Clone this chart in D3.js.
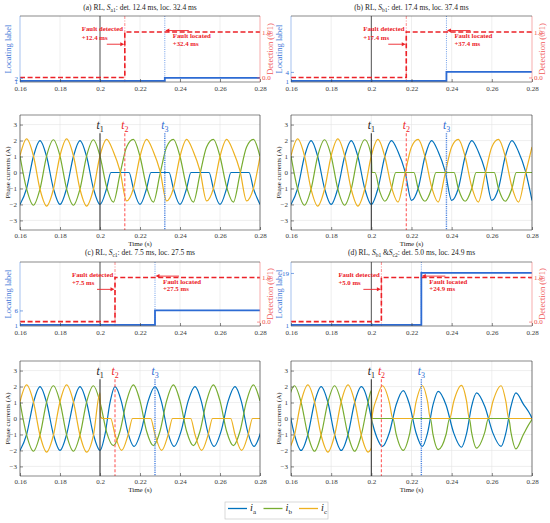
<!DOCTYPE html>
<html>
<head>
<meta charset="utf-8">
<script src="https://cdn.jsdelivr.net/npm/d3@7"></script>
<style>
  body { margin: 0; background: #fff; }
  svg { display: block; }
</style>
</head>
<body>
<svg id="chart" width="550" height="523"></svg>
<script>
// Open-switch fault cases: detection/locating signals (top) and phase currents (bottom)

var xTicks = [0.16, 0.18, 0.2, 0.22, 0.24, 0.26, 0.28];
var xTickLabels = ["0.16", "0.18", "0.2", "0.22", "0.24", "0.26", "0.28"];
var currentTicks = [-3, -2, -1, 0, 1, 2, 3];
var currentTickLabels = ["\u22123", "\u22122", "\u22121", "0", "1", "2", "3"];
var panelLetters = ["a", "b", "c", "d"];
var panelSwitches = [["a1"], ["b1"], ["c1"], ["b1", "c2"]];
var detectMs = [12.4, 17.4, 7.5, 5.0];
var locateMs = [32.4, 37.4, 27.5, 24.9];
var locateLabel = [2, 4, 6, 19];
var faultTime = 0.2;
var phaseNames = ["a", "b", "c"];

// pre-fault samples shared by panels a, b, c  [time (s), current (A)]
var preIa = [[0.16,-2],[0.1633,-1],[0.1667,1],[0.17,2],[0.1733,1],[0.1767,-1],[0.18,-2],[0.1833,-1],[0.1867,1],[0.19,2],[0.1933,1],[0.1967,-1]];
var preIb = [[0.16,1.03],[0.1633,-1.03],[0.1667,-2.05],[0.17,-1.03],[0.1733,1.03],[0.1767,2.05],[0.18,1.03],[0.1833,-1.03],[0.1867,-2.05],[0.19,-1.03],[0.1933,1.03],[0.1967,2.05]];
var preIc = [[0.16,1.05],[0.1633,2.1],[0.1667,1.05],[0.17,-1.05],[0.1733,-2.1],[0.1767,-1.05],[0.18,1.05],[0.1833,2.1],[0.1867,1.05],[0.19,-1.05],[0.1933,-2.1],[0.1967,-1.05]];

// (a) S_a1
var iaA = preIa.concat([[0.2,-2],[0.2033,-1],[0.2055,0],[0.2145,0],[0.2167,-1],[0.22,-2],[0.2233,-1],[0.2255,0],[0.2345,0],[0.2367,-1],[0.24,-2],[0.2433,-1],[0.2455,0],[0.2545,0],[0.2567,-1],[0.26,-2],[0.2633,-1],[0.2655,0],[0.2745,0],[0.2767,-1],[0.28,-2]]);
var ibA = preIb.concat([[0.2,1.03],[0.2033,-0.9],[0.2067,-1.85],[0.21,-0.1],[0.2133,1.6],[0.2167,2.07],[0.22,1.0],[0.2233,-0.9],[0.2267,-1.85],[0.23,-0.1],[0.2333,1.6],[0.2367,2.07],[0.24,1.0],[0.2433,-0.9],[0.2467,-1.85],[0.25,-0.1],[0.2533,1.6],[0.2567,2.07],[0.26,1.0],[0.2633,-0.9],[0.2667,-1.85],[0.27,-0.1],[0.2733,1.6],[0.2767,2.07],[0.28,1.0]]);
var icA = preIc.concat([[0.2,1.05],[0.2033,2.07],[0.2067,1.3],[0.21,0.1],[0.2133,-1.78],[0.2167,-1.0],[0.22,1.0],[0.2233,2.07],[0.2267,1.3],[0.23,0.1],[0.2333,-1.78],[0.2367,-1.0],[0.24,1.0],[0.2433,2.07],[0.2467,1.3],[0.25,0.1],[0.2533,-1.78],[0.2567,-1.0],[0.26,1.0],[0.2633,2.07],[0.2667,1.3],[0.27,0.1],[0.2733,-1.78],[0.2767,-1.0],[0.28,1.0]]);

// (b) S_b1
var iaB = preIa.concat([[0.2,-2],[0.2033,-1],[0.2067,1.0],[0.21,2.0],[0.2133,1.3],[0.2167,0.1],[0.22,-1.75],[0.2233,-1.0],[0.2267,1.0],[0.23,2.0],[0.2333,1.3],[0.2367,0.1],[0.24,-1.75],[0.2433,-1.0],[0.2467,1.0],[0.25,2.0],[0.2533,1.3],[0.2567,0.1],[0.26,-1.75],[0.2633,-1.0],[0.2667,1.0],[0.27,2.0],[0.2733,1.3],[0.2767,0.1],[0.28,-1.75]]);
var ibB = preIb.concat([[0.2,1.03],[0.2003,0],[0.2018,0],[0.2042,-1.2],[0.2067,-1.8],[0.21,-1.0],[0.2122,0],[0.2212,0],[0.2233,-1.0],[0.2267,-1.8],[0.23,-1.0],[0.2322,0],[0.2412,0],[0.2433,-1.0],[0.2467,-1.8],[0.25,-1.0],[0.2522,0],[0.2612,0],[0.2633,-1.0],[0.2667,-1.8],[0.27,-1.0],[0.2722,0],[0.28,0]]);
var icB = preIc.concat([[0.2,1.05],[0.2033,2.07],[0.2067,1.0],[0.21,-0.9],[0.2133,-1.85],[0.2167,-0.1],[0.22,1.6],[0.2233,2.07],[0.2267,1.0],[0.23,-0.9],[0.2333,-1.85],[0.2367,-0.1],[0.24,1.6],[0.2433,2.07],[0.2467,1.0],[0.25,-0.9],[0.2533,-1.85],[0.2567,-0.1],[0.26,1.6],[0.2633,2.07],[0.2667,1.0],[0.27,-0.9],[0.2733,-1.85],[0.2767,-0.1],[0.28,1.6]]);

// (c) S_c1
var iaC = preIa.concat([[0.2,-2],[0.2025,-1.0],[0.205,1.0],[0.2075,2.0],[0.2107,1.06],[0.2138,-0.81],[0.217,-1.75],[0.2205,-0.81],[0.224,1.06],[0.2275,2.0],[0.2307,1.06],[0.2338,-0.81],[0.237,-1.75],[0.2405,-0.81],[0.244,1.06],[0.2475,2.0],[0.2507,1.06],[0.2538,-0.81],[0.257,-1.75],[0.2605,-0.81],[0.264,1.06],[0.2675,2.0],[0.2707,1.06],[0.2738,-0.81],[0.277,-1.75],[0.2805,-0.81]]);
var ibC = preIb.concat([[0.2,1.03],[0.2033,-0.85],[0.2067,-1.7],[0.21,-0.8],[0.2133,1.1],[0.2167,2.1],[0.22,1.1],[0.2233,-0.8],[0.2267,-1.7],[0.23,-0.8],[0.2333,1.1],[0.2367,2.1],[0.24,1.1],[0.2433,-0.8],[0.2467,-1.7],[0.25,-0.8],[0.2533,1.1],[0.2567,2.1],[0.26,1.1],[0.2633,-0.8],[0.2667,-1.7],[0.27,-0.8],[0.2733,1.1],[0.2767,2.1],[0.28,1.1]]);
var icC = preIc.concat([[0.2,1.6],[0.2003,0.1],[0.2015,0],[0.2053,0],[0.2075,-1.0],[0.2108,-2.0],[0.2141,-1.0],[0.2163,0],[0.2253,0],[0.2275,-1.0],[0.2308,-2.0],[0.2341,-1.0],[0.2363,0],[0.2453,0],[0.2475,-1.0],[0.2508,-2.0],[0.2541,-1.0],[0.2563,0],[0.2653,0],[0.2675,-1.0],[0.2708,-2.0],[0.2741,-1.0],[0.2763,0],[0.28,0]]);

// (d) S_b1 & S_c2
var iaD = [[0.1584,1.0],[0.1617,-1.0],[0.165,-2.0],[0.1684,-1.0],[0.1717,1.0],[0.175,2.0],[0.1784,1.0],[0.1817,-1.0],[0.185,-2.0],[0.1884,-1.0],[0.1917,1.0],[0.195,2.0],[0.1984,1.0],
  [0.2,0.0],[0.2028,-1.2],[0.2055,-1.75],[0.209,-0.875],[0.2124,0.875],[0.2159,1.75],[0.219,0.875],[0.2222,-0.875],[0.2254,-1.75],[0.228,-0.9],[0.2307,0.85],[0.2333,1.7],[0.2372,0.85],[0.241,-0.9],[0.2449,-1.8],[0.2474,-0.95],[0.2499,0.75],[0.2524,1.6],[0.2565,0.75],[0.2605,-0.9],[0.2646,-1.75],[0.267,-0.9],[0.2695,0.75],[0.272,1.6],[0.2757,0.9],[0.2793,0.2],[0.2825,-0.8]];
var ibD = [[0.1584,1.03],[0.1617,2.05],[0.165,1.03],[0.1684,-1.03],[0.1717,-2.05],[0.175,-1.03],[0.1784,1.03],[0.1817,2.05],[0.185,1.03],[0.1884,-1.03],[0.1917,-2.05],[0.195,-1.03],[0.1984,1.03],
  [0.2,1.75],[0.2003,0.05],[0.2006,0],[0.2107,0],[0.2124,-1.0],[0.2159,-2.0],[0.219,-1.0],[0.2206,0],[0.2294,0],[0.2307,-1.0],[0.2333,-1.95],[0.2372,-1.0],[0.239,0],[0.2488,0],[0.2499,-0.85],[0.2524,-1.85],[0.2565,-0.85],[0.2583,0],[0.2684,0],[0.2695,-0.85],[0.272,-1.9],[0.2757,-1.0],[0.2793,-0.2],[0.2805,0],[0.2825,0]];
var icD = [[0.1584,-2.1],[0.1617,-1.05],[0.165,1.05],[0.1684,2.1],[0.1717,1.05],[0.175,-1.05],[0.1784,-2.1],[0.1817,-1.05],[0.185,1.05],[0.1884,2.1],[0.1917,1.05],[0.195,-1.05],[0.1984,-2.1],
  [0.2,-1.85],[0.2003,0.05],[0.2028,1.3],[0.2055,2.05],[0.209,1.0],[0.2107,0],[0.2206,0],[0.2222,1.0],[0.2254,2.05],[0.228,1.05],[0.2294,0],[0.239,0],[0.241,1.05],[0.2449,2.07],[0.2474,1.1],[0.2488,0],[0.2583,0],[0.2605,1.05],[0.2646,2.05],[0.267,1.05],[0.2684,0],[0.2825,0]];

var panelCurrents = [[iaA, ibA, icA], [iaB, ibB, icB], [iaC, ibC, icC], [iaD, ibD, icD]];

// ---- styling / layout ----
var SERIF = '"Liberation Serif", "Times New Roman", serif';
var phaseColors = ["#0072bd", "#77ac30", "#edb120"];
var RED = "#ec2228", BLUE = "#2d6bd3";
var AXIS = "#3a3a3a", GRID = "#e4e4e4";
var colX = [[20, 260], [291, 532]];
var rowY = [
    { title: 10, top: [16, 82], bottom: [115, 230] },
    { title: 254.5, top: [262, 326], bottom: [361, 476] }
];

var svg = d3.select("#chart");

function vline(g, xp, ya, yb, color, width, dash) {
    g.append("line")
        .attr("x1", xp).attr("x2", xp).attr("y1", ya).attr("y2", yb)
        .attr("stroke", color).attr("stroke-width", width)
        .attr("stroke-dasharray", dash);
}

function styleAxis(g, color) {
    g.attr("font-family", SERIF).attr("font-size", 7);
    g.select(".domain").remove();
    g.selectAll(".tick line").attr("stroke", color).attr("stroke-width", 0.6);
    g.selectAll(".tick text").attr("fill", color);
}

function frame(g, x0, x1, y0, y1, leftColor, rightColor) {
    vline(g, x0, y0, y1, leftColor, 0.7, null);
    vline(g, x1, y0, y1, rightColor, 0.7, null);
    g.append("line").attr("x1", x0).attr("x2", x1).attr("y1", y0).attr("y2", y0)
        .attr("stroke", AXIS).attr("stroke-width", 0.6);
    g.append("line").attr("x1", x0).attr("x2", x1).attr("y1", y1).attr("y2", y1)
        .attr("stroke", AXIS).attr("stroke-width", 0.6);
}

function arrow(g, xFrom, xTo, yp, color) {
    var dir = xTo > xFrom ? 1 : -1;
    g.append("line").attr("x1", xFrom).attr("x2", xTo - dir * 3).attr("y1", yp).attr("y2", yp)
        .attr("stroke", color).attr("stroke-width", 0.9);
    g.append("path")
        .attr("d", "M" + xTo + "," + yp + "L" + (xTo - dir * 4) + "," + (yp - 2) + "L" + (xTo - dir * 4) + "," + (yp + 2) + "Z")
        .attr("fill", color);
}

function rotatedLabel(xp, yp, text, color, size) {
    svg.append("text")
        .attr("transform", "translate(" + xp + "," + yp + ") rotate(-90)")
        .attr("text-anchor", "middle").attr("dy", "0.35em")
        .attr("font-family", SERIF).attr("font-size", size).attr("fill", color)
        .text(text);
}

function drawTitle(i, cx, yp) {
    var t = svg.append("text").attr("x", cx).attr("y", yp)
        .attr("text-anchor", "middle").attr("font-family", SERIF)
        .attr("font-size", 7.5).attr("fill", "#222").style("white-space", "pre");
    var pendingDy = 0;
    function plain(s) {
        t.append("tspan").attr("dy", pendingDy).text(s);
        pendingDy = 0;
    }
    plain("(" + panelLetters[i] + ") RL, ");
    panelSwitches[i].forEach(function(s, j) {
        if (j > 0) plain(" &");
        t.append("tspan").attr("dy", pendingDy).attr("font-style", "italic").text("S");
        t.append("tspan").attr("dy", 2).attr("font-size", 5.5).text(s);
        pendingDy = -2;
    });
    plain(": det. " + detectMs[i].toFixed(1) + " ms, loc. " + locateMs[i].toFixed(1) + " ms");
}

function drawTop(i) {
    var cx = colX[i % 2], row = rowY[Math.floor(i / 2)];
    var x0 = cx[0], x1 = cx[1], y0 = row.top[0], y1 = row.top[1];
    var x = d3.scaleLinear().domain([0.16, 0.28]).range([x0, x1]);
    var yL = d3.scaleLinear().domain([0.6, 22.8]).range([y1, y0]);
    var yR = d3.scaleLinear().domain([-0.1, 1.35]).range([y1, y0]);
    var t2 = faultTime + detectMs[i] / 1000;
    var t3 = faultTime + locateMs[i] / 1000;
    var g = svg.append("g");

    g.selectAll("line.grid").data(xTicks.slice(1, -1)).join("line")
        .attr("class", "grid")
        .attr("x1", function(d) { return x(d); }).attr("x2", function(d) { return x(d); })
        .attr("y1", y0).attr("y2", y1)
        .attr("stroke", GRID).attr("stroke-width", 0.6);

    vline(g, x(faultTime), y0, y1, "#444", 0.9, null);
    vline(g, x(t2), y0, y1, "#ff7070", 0.8, "3,1.5,1,1.5");
    vline(g, x(t3), y0, y1, "#6f9de8", 1, "1,1.2");

    var step = d3.line().curve(d3.curveStepAfter);
    g.append("path")
        .datum([[0.16, 1], [t3, locateLabel[i]], [0.28, locateLabel[i]]])
        .attr("d", step.x(function(d) { return x(d[0]); }).y(function(d) { return yL(d[1]); }))
        .attr("fill", "none").attr("stroke", BLUE).attr("stroke-width", 1.8);
    g.append("path")
        .datum([[0.16, 0], [t2, 1], [0.28, 1]])
        .attr("d", d3.line().curve(d3.curveStepAfter)
            .x(function(d) { return x(d[0]); }).y(function(d) { return yR(d[1]); }))
        .attr("fill", "none").attr("stroke", RED).attr("stroke-width", 1.6)
        .attr("stroke-dasharray", "5,2.6");

    frame(g, x0, x1, y0, y1, "#7fa6e6", "#f38a8a");

    styleAxis(g.append("g").attr("transform", "translate(0," + y1 + ")")
        .call(d3.axisBottom(x).tickValues(xTicks).tickSizeInner(-3).tickSizeOuter(0).tickPadding(3.8)
            .tickFormat(function(d, k) { return xTickLabels[k]; })), AXIS);
    styleAxis(g.append("g").attr("transform", "translate(" + x0 + ",0)")
        .call(d3.axisLeft(yL).tickValues([1, locateLabel[i]]).tickSizeInner(-3).tickSizeOuter(0).tickPadding(2)), BLUE);
    styleAxis(g.append("g").attr("transform", "translate(" + x1 + ",0)")
        .call(d3.axisRight(yR).tickValues([0, 1]).tickSizeInner(-3).tickSizeOuter(0).tickPadding(2)), "#f05050");

    rotatedLabel(x0 - 12, (y0 + y1) / 2, "Locating label", "#3f78d8", 8.5);
    rotatedLabel(x1 + 10.5, (y0 + y1) / 2, "Detection (0/1)", "#f05a5a", 8.5);

    // annotations
    var note = g.append("g").attr("font-family", SERIF).attr("font-size", 6.8)
        .attr("font-weight", "bold").attr("fill", RED);
    note.append("text").attr("x", x(t2) - 43).attr("y", yR(1) - 0.5).text("Fault detected");
    note.append("text").attr("x", x(t2) - 43).attr("y", yR(1) + 7.8).text("+" + detectMs[i].toFixed(1) + " ms");
    arrow(g, x(t2) - 18, x(t2) - 0.5, yR(0.73), RED);
    note.append("text").attr("x", x(t3) + 8).attr("y", yR(1) + 6.5).text("Fault located");
    note.append("text").attr("x", x(t3) + 8).attr("y", yR(1) + 14).text("+" + locateMs[i].toFixed(1) + " ms");
    arrow(g, x(t3) + 24, x(t3) + 0.5, yR(1.03), RED);
}

function drawBottom(i) {
    var cx = colX[i % 2], row = rowY[Math.floor(i / 2)];
    var x0 = cx[0], x1 = cx[1], y0 = row.bottom[0], y1 = row.bottom[1];
    var x = d3.scaleLinear().domain([0.16, 0.28]).range([x0, x1]);
    var y = d3.scaleLinear().domain([-3.6, 3.6]).range([y1, y0]);
    var t2 = faultTime + detectMs[i] / 1000;
    var t3 = faultTime + locateMs[i] / 1000;
    var g = svg.append("g");

    g.selectAll("line.gx").data(xTicks.slice(1, -1)).join("line")
        .attr("class", "gx")
        .attr("x1", function(d) { return x(d); }).attr("x2", function(d) { return x(d); })
        .attr("y1", y0).attr("y2", y1).attr("stroke", GRID).attr("stroke-width", 0.6);
    g.selectAll("line.gy").data(currentTicks).join("line")
        .attr("class", "gy")
        .attr("x1", x0).attr("x2", x1)
        .attr("y1", function(d) { return y(d); }).attr("y2", function(d) { return y(d); })
        .attr("stroke", GRID).attr("stroke-width", 0.6);

    var clipId = "clip-" + i;
    svg.append("clipPath").attr("id", clipId).append("rect")
        .attr("x", x0).attr("y", y0).attr("width", x1 - x0).attr("height", y1 - y0);

    var line = d3.line().curve(d3.curveMonotoneX)
        .x(function(d) { return x(d[0]); }).y(function(d) { return y(d[1]); });
    g.append("g").attr("clip-path", "url(#" + clipId + ")")
        .selectAll("path").data(panelCurrents[i]).join("path")
        .attr("d", line).attr("fill", "none")
        .attr("stroke", function(d, k) { return phaseColors[k]; })
        .attr("stroke-width", 1.2).attr("stroke-linejoin", "round");

    var events = [
        { t: faultTime, color: "#3a3a3a", width: 1.1, dash: null },
        { t: t2, color: "#ff5c5c", width: 1.1, dash: "3,2" },
        { t: t3, color: "#4d84e0", width: 1.4, dash: "1.2,1" }
    ];
    var labelColors = ["#222", RED, BLUE];
    events.forEach(function(e, k) {
        vline(g, x(e.t), y(2.45), y1, e.color, e.width, e.dash);
        var t = g.append("text").attr("x", x(e.t) - 3.5).attr("y", y(2.7))
            .attr("font-family", SERIF).attr("fill", labelColors[k]);
        t.append("tspan").attr("font-style", "italic").attr("font-size", 11.5).text("t");
        t.append("tspan").attr("font-size", 8).attr("dy", 2.5).text(String(k + 1));
    });

    frame(g, x0, x1, y0, y1, AXIS, AXIS);

    styleAxis(g.append("g").attr("transform", "translate(0," + y1 + ")")
        .call(d3.axisBottom(x).tickValues(xTicks).tickSizeInner(-3).tickSizeOuter(0).tickPadding(3)
            .tickFormat(function(d, k) { return xTickLabels[k]; })), AXIS);
    styleAxis(g.append("g").attr("transform", "translate(" + x0 + ",0)")
        .call(d3.axisLeft(y).tickValues(currentTicks).tickSizeInner(-3).tickSizeOuter(0).tickPadding(3)
            .tickFormat(function(d, k) { return currentTickLabels[k]; })), AXIS);

    rotatedLabel(x0 - 12.5, (y0 + y1) / 2, "Phase currents (A)", "#222", 7);
    svg.append("text").attr("x", (x0 + x1) / 2).attr("y", y1 + 16)
        .attr("text-anchor", "middle").attr("font-family", SERIF).attr("font-size", 7)
        .attr("fill", "#222").text("Time (s)");
}

for (var i = 0; i < 4; i++) {
    var c = colX[i % 2];
    drawTitle(i, (c[0] + c[1]) / 2, rowY[Math.floor(i / 2)].title);
    drawTop(i);
    drawBottom(i);
}

// legend
var legend = svg.append("g");
legend.append("rect").attr("x", 225).attr("y", 502).attr("width", 103).attr("height", 17)
    .attr("fill", "#fff").attr("stroke", "#c8c8c8").attr("stroke-width", 0.7);
phaseNames.forEach(function(name, k) {
    var lx = 228 + k * 35.5;
    legend.append("line").attr("x1", lx).attr("x2", lx + 19).attr("y1", 508.5).attr("y2", 508.5)
        .attr("stroke", phaseColors[k]).attr("stroke-width", 1.3);
    var t = legend.append("text").attr("x", lx + 22).attr("y", 511)
        .attr("font-family", SERIF).attr("fill", "#222");
    t.append("tspan").attr("font-style", "italic").attr("font-size", 10.5).text("i");
    t.append("tspan").attr("font-size", 7).attr("dy", 3).text(name);
});
</script>
</body>
</html>
